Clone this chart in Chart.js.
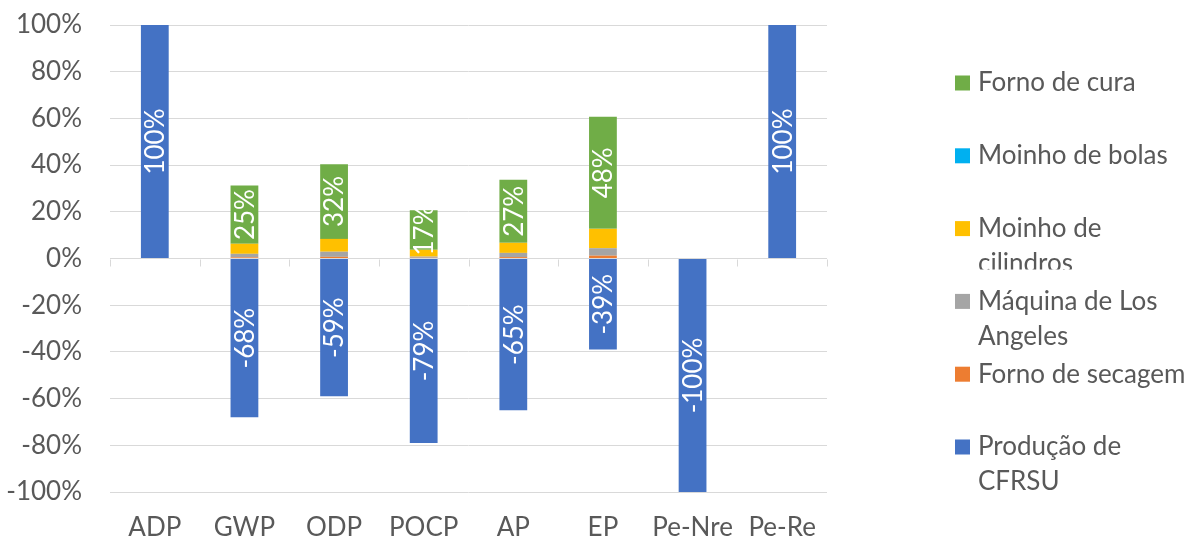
<!DOCTYPE html>
<html>
<head>
<meta charset="utf-8">
<script src="https://cdn.jsdelivr.net/npm/chart.js@4/dist/chart.umd.min.js"></script>
<style>
  html, body { margin: 0; padding: 0; background: #ffffff; }
  #wrap { width: 1195px; height: 540px; }
</style>
</head>
<body>
<div id="wrap"><canvas id="c" width="1195" height="540"></canvas></div>
<script>
// Impact categories and contribution shares per process (fractions of 1)
const categories = ['ADP', 'GWP', 'ODP', 'POCP', 'AP', 'EP', 'Pe-Nre', 'Pe-Re'];
const producaoCFRSU     = [1.00, -0.68, -0.59, -0.79, -0.65, -0.39, -1.00, 1.00];
const fornoSecagem      = [0, 0.005, 0.007, 0.003, 0.006, 0.012, 0, 0];
const maquinaLosAngeles = [0, 0.015, 0.022, 0.005, 0.018, 0.032, 0, 0];
const moinhoCilindros   = [0, 0.043, 0.055, 0.029, 0.043, 0.083, 0, 0];
const moinhoBolas       = [0, 0, 0, 0, 0, 0, 0, 0];
const fornoCura         = [0, 0.25, 0.32, 0.17, 0.27, 0.48, 0, 0];
const yMin = -1, yMax = 1, yStep = 0.2;

const FONT = 'Lato, "Liberation Sans", sans-serif';
const SIZE = 26;
const TEXT = '#595959';
const GRID = '#d9d9d9';

const pct = v => Math.round(v * 100) + '%';

// Rotated white value labels inside the blue and green segments
const valueLabels = {
  id: 'valueLabels',
  afterDatasetsDraw(chart) {
    const ctx = chart.ctx;
    ctx.save();
    ctx.fillStyle = '#ffffff';
    ctx.font = SIZE + 'px ' + FONT;
    ctx.textAlign = 'center';
    ctx.textBaseline = 'middle';
    chart.data.datasets.forEach((ds, di) => {
      if (!ds.showValues) return;
      const meta = chart.getDatasetMeta(di);
      meta.data.forEach((el, i) => {
        const v = ds.data[i];
        if (!v) return;
        const p = el.getProps(['x', 'y', 'base'], true);
        const cy = (p.y + p.base) / 2;
        ctx.save();
        ctx.translate(p.x, cy);
        ctx.rotate(-Math.PI / 2);
        ctx.fillText(pct(v), 0, 1);
        ctx.restore();
      });
    });
    ctx.restore();
  }
};

// Category-boundary tick marks hanging from the zero line
const zeroAxisTicks = {
  id: 'zeroAxisTicks',
  beforeDatasetsDraw(chart) {
    const ctx = chart.ctx, xs = chart.scales.x, ys = chart.scales.y;
    const y0 = Math.round(ys.getPixelForValue(0)) + 0.5;
    const step = xs.getPixelForValue(1) - xs.getPixelForValue(0);
    ctx.save();
    ctx.strokeStyle = GRID;
    ctx.lineWidth = 1;
    ctx.beginPath();
    for (let i = 0; i <= categories.length; i++) {
      const x = Math.round(xs.getPixelForValue(0) - step / 2 + i * step) + 0.5;
      ctx.moveTo(x, y0);
      ctx.lineTo(x, y0 + 7);
    }
    ctx.stroke();
    ctx.restore();
  }
};

// Vertical legend on the right, series listed top-down in reverse stacking order.
// Entry text boxes have a fixed height; an entry whose wrapped text is taller is cut off.
const legendStyle = {
  boxX: 955, box: 15, textX: 978, firstY: 83, itemStep: 72.8, lineH: 35, maxW: 215,
  textBoxHeight: [0, 0, 41, 0, 0, 0]   // 0 = no cut
};
const sideLegend = {
  id: 'sideLegend',
  afterDraw(chart) {
    const ctx = chart.ctx, L = legendStyle;
    ctx.save();
    ctx.font = SIZE + 'px ' + FONT;
    ctx.textBaseline = 'middle';
    ctx.textAlign = 'left';
    const items = chart.data.datasets.slice().reverse();
    items.forEach((ds, k) => {
      const cy = L.firstY + k * L.itemStep;
      // wrap words to the legend width
      const words = ds.label.split(' ');
      const lines = [];
      let cur = '';
      words.forEach(w => {
        const t = cur ? cur + ' ' + w : w;
        if (ctx.measureText(t).width > L.maxW && cur) { lines.push(cur); cur = w; }
        else cur = t;
      });
      lines.push(cur);
      ctx.save();
      if (L.textBoxHeight[k]) {
        ctx.beginPath();
        ctx.rect(900, cy - 31, 295, 31 + L.textBoxHeight[k]);
        ctx.clip();
      }
      ctx.fillStyle = ds.backgroundColor;
      ctx.fillRect(L.boxX, cy - L.box / 2, L.box, L.box);
      ctx.fillStyle = TEXT;
      lines.forEach((ln, j) => ctx.fillText(ln, L.textX, cy + j * L.lineH));
      ctx.restore();
    });
    ctx.restore();
  }
};

const series = [
  { label: 'Produção de CFRSU',      data: producaoCFRSU,     color: '#4472C4', showValues: true },
  { label: 'Forno de secagem',       data: fornoSecagem,      color: '#ED7D31' },
  { label: 'Máquina de Los Angeles', data: maquinaLosAngeles, color: '#A5A5A5' },
  { label: 'Moinho de cilindros',    data: moinhoCilindros,   color: '#FFC000' },
  { label: 'Moinho de bolas',        data: moinhoBolas,       color: '#00B0F0' },
  { label: 'Forno de cura',          data: fornoCura,         color: '#70AD47', showValues: true }
];

new Chart(document.getElementById('c'), {
  type: 'bar',
  data: {
    labels: categories,
    datasets: series.map(s => ({
      label: s.label,
      data: s.data,
      backgroundColor: s.color,
      borderWidth: 0,
      showValues: !!s.showValues,
      categoryPercentage: 1,
      barPercentage: 0.31
    }))
  },
  plugins: [zeroAxisTicks, valueLabels, sideLegend],
  options: {
    responsive: false,
    devicePixelRatio: 1,
    animation: false,
    layout: { padding: { left: 0, right: 368, top: 25, bottom: 0 } },
    plugins: { legend: { display: false }, tooltip: { enabled: false } },
    scales: {
      x: {
        stacked: true,
        afterFit(scale) { scale.height = 48; scale.paddingLeft = 0; scale.paddingRight = 0; },
        grid: { display: false, drawTicks: false },
        border: { display: false },
        ticks: { color: TEXT, font: { family: FONT, size: SIZE }, padding: 20, maxRotation: 0 }
      },
      y: {
        stacked: true,
        min: yMin, max: yMax,
        afterFit(scale) { scale.width = 110; scale.paddingTop = 0; scale.paddingBottom = 0; },
        grid: { color: GRID, lineWidth: 1, drawTicks: false },
        border: { display: false },
        ticks: {
          stepSize: yStep,
          color: TEXT,
          font: { family: FONT, size: SIZE },
          padding: 28,
          callback: v => pct(v)
        }
      }
    }
  }
});
</script>
</body>
</html>
